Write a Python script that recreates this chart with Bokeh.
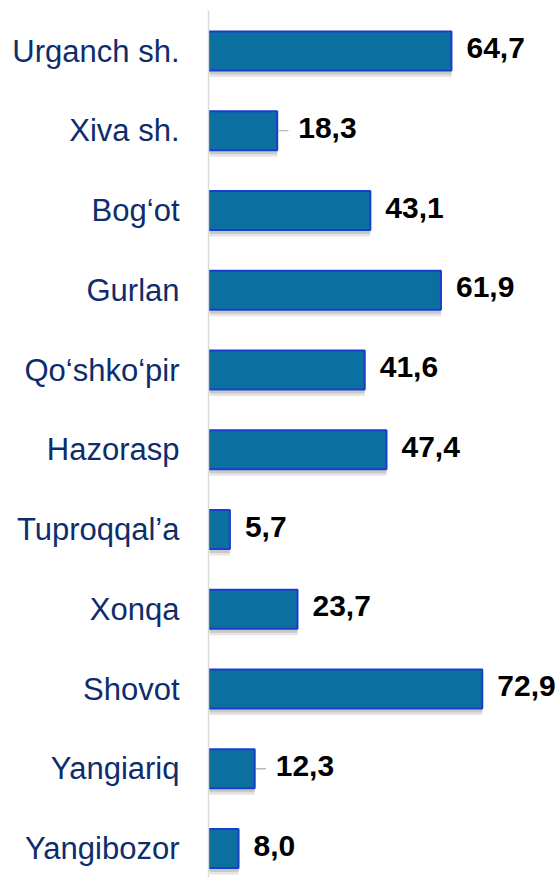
from bokeh.plotting import figure
from bokeh.models import Range1d, FixedTicker, ColumnDataSource
from bokeh.embed import file_html
from bokeh.resources import INLINE
from bokeh.core.properties import value

districts = ["Urganch sh.", "Xiva sh.", "Bog\u2018ot", "Gurlan", "Qo\u2018shko\u2018pir",
             "Hazorasp", "Tuproqqal\u2019a", "Xonqa", "Shovot", "Yangiariq", "Yangibozor"]
values = [64.7, 18.3, 43.1, 61.9, 41.6, 47.4, 5.7, 23.7, 72.9, 12.3, 8.0]
has_leader = [False, True, False, False, False, False, False, False, False, True, False]

pos = list(range(len(districts)))
labels = [f"{v:.1f}".replace(".", ",") for v in values]

src = ColumnDataSource(dict(
    y=pos,
    v=values,
    lab=labels,
    off=[21 if h else 15 for h in has_leader],
    sh1=[i + 0.05 for i in pos],
    sh2=[i + 0.08 for i in pos],
))

lead_src = ColumnDataSource(dict(
    y=[i for i, h in zip(pos, has_leader) if h],
    x0=[v + 0.4 for v, h in zip(values, has_leader) if h],
    x1=[v + 3.0 for v, h in zip(values, has_leader) if h],
))

p = figure(width=558, height=877, output_backend="svg", toolbar_location=None,
           x_range=Range1d(0, 93.2), y_range=Range1d(10.363, -0.508),
           x_axis_location=None,
           min_border_left=208, min_border_right=0, min_border_top=10, min_border_bottom=0)

p.outline_line_color = None
p.xgrid.visible = False
p.ygrid.visible = False
p.background_fill_color = "white"
p.border_fill_color = "white"

# soft shadow
p.hbar(y="sh2", right="v", left=0.3, height=0.49, source=src,
       fill_color="#000000", fill_alpha=0.10, line_color=None)
p.hbar(y="sh1", right="v", left=0.2, height=0.49, source=src,
       fill_color="#000000", fill_alpha=0.12, line_color=None)

p.hbar(y="y", right="v", left=0, height=0.49, source=src,
       fill_color="#0B6FA0", line_color="#1A3CCF", line_width=2)

p.segment(x0="x0", x1="x1", y0="y", y1="y", source=lead_src,
          line_color="#A6A6A6", line_width=1.2)

p.text(x="v", y="y", text="lab", x_offset="off", y_offset=-3, source=src,
       text_font=value("Liberation Sans"), text_font_style="bold",
       text_font_size="30px", text_baseline="middle", text_align="left",
       text_color="black")

ax = p.yaxis[0]
ax.ticker = FixedTicker(ticks=pos)
ax.major_label_overrides = {i: d for i, d in zip(pos, districts)}
ax.major_label_text_font = "Liberation Sans"
ax.major_label_text_font_size = "31px"
ax.major_label_text_color = "#0D2D6C"
ax.major_label_standoff = 29
ax.axis_line_color = "#D9D9D9"
ax.axis_line_width = 1.5
ax.major_tick_line_color = None
ax.minor_tick_line_color = None
ax.major_tick_out = 0
ax.major_tick_in = 0

open("out.html", "w").write(file_html(p, INLINE))
